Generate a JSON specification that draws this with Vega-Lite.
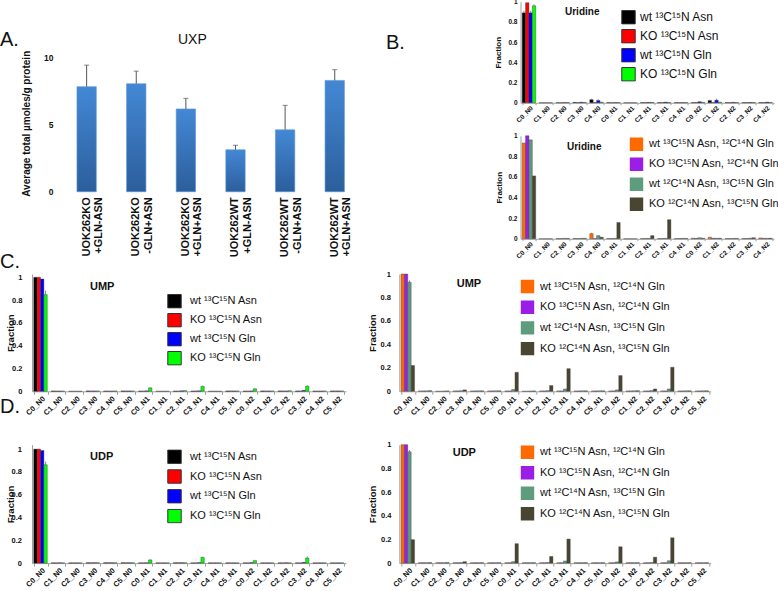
{
  "$schema": "https://vega.github.io/schema/vega-lite/v6.json",
  "background": "white",
  "padding": {"left": 0, "top": -1.25, "right": 0, "bottom": 0},
  "spacing": -8.75,
  "resolve": {"scale": {"color": "independent"}, "legend": {"color": "independent"}},
  "datasets": {
    "ax": [
      {"c": "UOK262KO|+GLN-ASN", "v": 7.84, "e": 9.45},
      {"c": "UOK262KO|-GLN+ASN", "v": 8.06, "e": 9.0},
      {"c": "UOK262KO|+GLN+ASN", "v": 6.18, "e": 6.97},
      {"c": "UOK262WT|+GLN-ASN", "v": 3.13, "e": 3.47},
      {"c": "UOK262WT|-GLN+ASN", "v": 4.62, "e": 6.45},
      {"c": "UOK262WT|+GLN+ASN", "v": 8.31, "e": 9.11}
    ],
    "ub": [
      {"k":"C0_N0","s":"a","v":0.89,"e":0.91},{"k":"C0_N0","s":"b","v":0.99},{"k":"C0_N0","s":"c","v":0.89,"e":0.91},{"k":"C0_N0","s":"d","v":0.96,"e":0.975},
      {"k":"C1_N0","s":"a","v":0},{"k":"C1_N0","s":"b","v":0},{"k":"C1_N0","s":"c","v":0},{"k":"C1_N0","s":"d","v":0},
      {"k":"C2_N0","s":"a","v":0.001},{"k":"C2_N0","s":"b","v":0.001},{"k":"C2_N0","s":"c","v":0.002},{"k":"C2_N0","s":"d","v":0.002},
      {"k":"C3_N0","s":"a","v":0.004},{"k":"C3_N0","s":"b","v":0.002},{"k":"C3_N0","s":"c","v":0.005},{"k":"C3_N0","s":"d","v":0.003},
      {"k":"C4_N0","s":"a","v":0.03,"e":0.04},{"k":"C4_N0","s":"b","v":0.002},{"k":"C4_N0","s":"c","v":0.022,"e":0.035},{"k":"C4_N0","s":"d","v":0.006},
      {"k":"C0_N1","s":"a","v":0.002},{"k":"C0_N1","s":"b","v":0.001},{"k":"C0_N1","s":"c","v":0.002},{"k":"C0_N1","s":"d","v":0.002},
      {"k":"C1_N1","s":"a","v":0},{"k":"C1_N1","s":"b","v":0},{"k":"C1_N1","s":"c","v":0},{"k":"C1_N1","s":"d","v":0},
      {"k":"C2_N1","s":"a","v":0.002},{"k":"C2_N1","s":"b","v":0.002},{"k":"C2_N1","s":"c","v":0.004},{"k":"C2_N1","s":"d","v":0.003},
      {"k":"C3_N1","s":"a","v":0.002},{"k":"C3_N1","s":"b","v":0.002},{"k":"C3_N1","s":"c","v":0.006},{"k":"C3_N1","s":"d","v":0.002},
      {"k":"C4_N1","s":"a","v":0.002},{"k":"C4_N1","s":"b","v":0.001},{"k":"C4_N1","s":"c","v":0.002},{"k":"C4_N1","s":"d","v":0.002},
      {"k":"C0_N2","s":"a","v":0.002},{"k":"C0_N2","s":"b","v":0.003},{"k":"C0_N2","s":"c","v":0.01},{"k":"C0_N2","s":"d","v":0.004},
      {"k":"C1_N2","s":"a","v":0.022,"e":0.03},{"k":"C1_N2","s":"b","v":0.003},{"k":"C1_N2","s":"c","v":0.025,"e":0.04},{"k":"C1_N2","s":"d","v":0.006},
      {"k":"C2_N2","s":"a","v":0.002},{"k":"C2_N2","s":"b","v":0.002},{"k":"C2_N2","s":"c","v":0.004},{"k":"C2_N2","s":"d","v":0.002},
      {"k":"C3_N2","s":"a","v":0.002},{"k":"C3_N2","s":"b","v":0.002},{"k":"C3_N2","s":"c","v":0.003},{"k":"C3_N2","s":"d","v":0.003},
      {"k":"C4_N2","s":"a","v":0.002},{"k":"C4_N2","s":"b","v":0.002},{"k":"C4_N2","s":"c","v":0.006},{"k":"C4_N2","s":"d","v":0.003}
    ],
    "ur": [
      {"k":"C0_N0","s":"a","v":0.93},{"k":"C0_N0","s":"b","v":1.0},{"k":"C0_N0","s":"c","v":0.96},{"k":"C0_N0","s":"d","v":0.61},
      {"k":"C1_N0","s":"a","v":0},{"k":"C1_N0","s":"b","v":0},{"k":"C1_N0","s":"c","v":0},{"k":"C1_N0","s":"d","v":0},
      {"k":"C2_N0","s":"a","v":0.002},{"k":"C2_N0","s":"b","v":0.002},{"k":"C2_N0","s":"c","v":0.004},{"k":"C2_N0","s":"d","v":0.003},
      {"k":"C3_N0","s":"a","v":0.003},{"k":"C3_N0","s":"b","v":0.002},{"k":"C3_N0","s":"c","v":0.004},{"k":"C3_N0","s":"d","v":0.004},
      {"k":"C4_N0","s":"a","v":0.05,"e":0.058},{"k":"C4_N0","s":"b","v":0.002},{"k":"C4_N0","s":"c","v":0.03,"e":0.035},{"k":"C4_N0","s":"d","v":0.015},
      {"k":"C0_N1","s":"a","v":0.003},{"k":"C0_N1","s":"b","v":0.002},{"k":"C0_N1","s":"c","v":0.004},{"k":"C0_N1","s":"d","v":0.158},
      {"k":"C1_N1","s":"a","v":0},{"k":"C1_N1","s":"b","v":0},{"k":"C1_N1","s":"c","v":0},{"k":"C1_N1","s":"d","v":0},
      {"k":"C2_N1","s":"a","v":0.002},{"k":"C2_N1","s":"b","v":0.002},{"k":"C2_N1","s":"c","v":0.004},{"k":"C2_N1","s":"d","v":0.03,"e":0.036},
      {"k":"C3_N1","s":"a","v":0.002},{"k":"C3_N1","s":"b","v":0.002},{"k":"C3_N1","s":"c","v":0.004},{"k":"C3_N1","s":"d","v":0.185},
      {"k":"C4_N1","s":"a","v":0.002},{"k":"C4_N1","s":"b","v":0.002},{"k":"C4_N1","s":"c","v":0.004},{"k":"C4_N1","s":"d","v":0.003},
      {"k":"C0_N2","s":"a","v":0.006},{"k":"C0_N2","s":"b","v":0.004},{"k":"C0_N2","s":"c","v":0.01},{"k":"C0_N2","s":"d","v":0.005},
      {"k":"C1_N2","s":"a","v":0.015},{"k":"C1_N2","s":"b","v":0.005},{"k":"C1_N2","s":"c","v":0.005},{"k":"C1_N2","s":"d","v":0.005},
      {"k":"C2_N2","s":"a","v":0.002},{"k":"C2_N2","s":"b","v":0.002},{"k":"C2_N2","s":"c","v":0.003},{"k":"C2_N2","s":"d","v":0.003},
      {"k":"C3_N2","s":"a","v":0.003},{"k":"C3_N2","s":"b","v":0.003},{"k":"C3_N2","s":"c","v":0.006},{"k":"C3_N2","s":"d","v":0.01},
      {"k":"C4_N2","s":"a","v":0.008},{"k":"C4_N2","s":"b","v":0.004},{"k":"C4_N2","s":"c","v":0.004},{"k":"C4_N2","s":"d","v":0.005}
    ],
    "ml": [
      {"k":"C0_N0","s":"a","v":1.0},{"k":"C0_N0","s":"b","v":1.0},{"k":"C0_N0","s":"c","v":0.985},{"k":"C0_N0","s":"d","v":0.848,"e":0.883},
      {"k":"C1_N0","s":"a","v":0.003},{"k":"C1_N0","s":"b","v":0.002},{"k":"C1_N0","s":"c","v":0.002},{"k":"C1_N0","s":"d","v":0.002},
      {"k":"C2_N0","s":"a","v":0},{"k":"C2_N0","s":"b","v":0},{"k":"C2_N0","s":"c","v":0},{"k":"C2_N0","s":"d","v":0},
      {"k":"C3_N0","s":"a","v":0.003},{"k":"C3_N0","s":"b","v":0.003},{"k":"C3_N0","s":"c","v":0.003},{"k":"C3_N0","s":"d","v":0.003},
      {"k":"C4_N0","s":"a","v":0.002},{"k":"C4_N0","s":"b","v":0.002},{"k":"C4_N0","s":"c","v":0.002},{"k":"C4_N0","s":"d","v":0.003},
      {"k":"C5_N0","s":"a","v":0.003},{"k":"C5_N0","s":"b","v":0.003},{"k":"C5_N0","s":"c","v":0.003},{"k":"C5_N0","s":"d","v":0.003},
      {"k":"C0_N1","s":"a","v":0.002},{"k":"C0_N1","s":"b","v":0.002},{"k":"C0_N1","s":"c","v":0.004},{"k":"C0_N1","s":"d","v":0.03,"e":0.036},
      {"k":"C1_N1","s":"a","v":0},{"k":"C1_N1","s":"b","v":0},{"k":"C1_N1","s":"c","v":0},{"k":"C1_N1","s":"d","v":0},
      {"k":"C2_N1","s":"a","v":0.002},{"k":"C2_N1","s":"b","v":0.002},{"k":"C2_N1","s":"c","v":0.004},{"k":"C2_N1","s":"d","v":0.006},
      {"k":"C3_N1","s":"a","v":0.002},{"k":"C3_N1","s":"b","v":0.003},{"k":"C3_N1","s":"c","v":0.004},{"k":"C3_N1","s":"d","v":0.042,"e":0.05},
      {"k":"C4_N1","s":"a","v":0},{"k":"C4_N1","s":"b","v":0},{"k":"C4_N1","s":"c","v":0},{"k":"C4_N1","s":"d","v":0},
      {"k":"C5_N1","s":"a","v":0.003},{"k":"C5_N1","s":"b","v":0.003},{"k":"C5_N1","s":"c","v":0.003},{"k":"C5_N1","s":"d","v":0.003},
      {"k":"C0_N2","s":"a","v":0.002},{"k":"C0_N2","s":"b","v":0.002},{"k":"C0_N2","s":"c","v":0.003},{"k":"C0_N2","s":"d","v":0.022,"e":0.026},
      {"k":"C1_N2","s":"a","v":0.003},{"k":"C1_N2","s":"b","v":0.003},{"k":"C1_N2","s":"c","v":0.003},{"k":"C1_N2","s":"d","v":0.003},
      {"k":"C2_N2","s":"a","v":0.003},{"k":"C2_N2","s":"b","v":0.003},{"k":"C2_N2","s":"c","v":0.003},{"k":"C2_N2","s":"d","v":0.005},
      {"k":"C3_N2","s":"a","v":0.003},{"k":"C3_N2","s":"b","v":0.003},{"k":"C3_N2","s":"c","v":0.008},{"k":"C3_N2","s":"d","v":0.045,"e":0.052},
      {"k":"C4_N2","s":"a","v":0.002},{"k":"C4_N2","s":"b","v":0.002},{"k":"C4_N2","s":"c","v":0.002},{"k":"C4_N2","s":"d","v":0.003},
      {"k":"C5_N2","s":"a","v":0.003},{"k":"C5_N2","s":"b","v":0.003},{"k":"C5_N2","s":"c","v":0.003},{"k":"C5_N2","s":"d","v":0.003}
    ],
    "mr": [
      {"k":"C0_N0","s":"a","v":1.0},{"k":"C0_N0","s":"b","v":1.0},{"k":"C0_N0","s":"c","v":0.93,"e":0.945},{"k":"C0_N0","s":"d","v":0.22},
      {"k":"C1_N0","s":"a","v":0.003},{"k":"C1_N0","s":"b","v":0.003},{"k":"C1_N0","s":"c","v":0.004},{"k":"C1_N0","s":"d","v":0.005},
      {"k":"C2_N0","s":"a","v":0},{"k":"C2_N0","s":"b","v":0},{"k":"C2_N0","s":"c","v":0.002},{"k":"C2_N0","s":"d","v":0.003},
      {"k":"C3_N0","s":"a","v":0.003},{"k":"C3_N0","s":"b","v":0.003},{"k":"C3_N0","s":"c","v":0.005},{"k":"C3_N0","s":"d","v":0.012},
      {"k":"C4_N0","s":"a","v":0.003},{"k":"C4_N0","s":"b","v":0.003},{"k":"C4_N0","s":"c","v":0.004},{"k":"C4_N0","s":"d","v":0.004},
      {"k":"C5_N0","s":"a","v":0.003},{"k":"C5_N0","s":"b","v":0.003},{"k":"C5_N0","s":"c","v":0.004},{"k":"C5_N0","s":"d","v":0.004},
      {"k":"C0_N1","s":"a","v":0.003},{"k":"C0_N1","s":"b","v":0.003},{"k":"C0_N1","s":"c","v":0.015},{"k":"C0_N1","s":"d","v":0.162},
      {"k":"C1_N1","s":"a","v":0},{"k":"C1_N1","s":"b","v":0},{"k":"C1_N1","s":"c","v":0.002},{"k":"C1_N1","s":"d","v":0.003},
      {"k":"C2_N1","s":"a","v":0.003},{"k":"C2_N1","s":"b","v":0.003},{"k":"C2_N1","s":"c","v":0.006},{"k":"C2_N1","s":"d","v":0.049},
      {"k":"C3_N1","s":"a","v":0.003},{"k":"C3_N1","s":"b","v":0.003},{"k":"C3_N1","s":"c","v":0.02},{"k":"C3_N1","s":"d","v":0.193},
      {"k":"C4_N1","s":"a","v":0.003},{"k":"C4_N1","s":"b","v":0.003},{"k":"C4_N1","s":"c","v":0.004},{"k":"C4_N1","s":"d","v":0.004},
      {"k":"C5_N1","s":"a","v":0.003},{"k":"C5_N1","s":"b","v":0.003},{"k":"C5_N1","s":"c","v":0.004},{"k":"C5_N1","s":"d","v":0.004},
      {"k":"C0_N2","s":"a","v":0.003},{"k":"C0_N2","s":"b","v":0.003},{"k":"C0_N2","s":"c","v":0.012},{"k":"C0_N2","s":"d","v":0.134},
      {"k":"C1_N2","s":"a","v":0.003},{"k":"C1_N2","s":"b","v":0.003},{"k":"C1_N2","s":"c","v":0.004},{"k":"C1_N2","s":"d","v":0.005},
      {"k":"C2_N2","s":"a","v":0.003},{"k":"C2_N2","s":"b","v":0.003},{"k":"C2_N2","s":"c","v":0.006},{"k":"C2_N2","s":"d","v":0.02},
      {"k":"C3_N2","s":"a","v":0.003},{"k":"C3_N2","s":"b","v":0.003},{"k":"C3_N2","s":"c","v":0.02},{"k":"C3_N2","s":"d","v":0.205},
      {"k":"C4_N2","s":"a","v":0.003},{"k":"C4_N2","s":"b","v":0.003},{"k":"C4_N2","s":"c","v":0.004},{"k":"C4_N2","s":"d","v":0.004},
      {"k":"C5_N2","s":"a","v":0.003},{"k":"C5_N2","s":"b","v":0.003},{"k":"C5_N2","s":"c","v":0.004},{"k":"C5_N2","s":"d","v":0.004}
    ],
    "dl": [
      {"k":"C0_N0","s":"a","v":1.0},{"k":"C0_N0","s":"b","v":1.0},{"k":"C0_N0","s":"c","v":0.988},{"k":"C0_N0","s":"d","v":0.863,"e":0.89},
      {"k":"C1_N0","s":"a","v":0.002},{"k":"C1_N0","s":"b","v":0.002},{"k":"C1_N0","s":"c","v":0.002},{"k":"C1_N0","s":"d","v":0.002},
      {"k":"C2_N0","s":"a","v":0.002},{"k":"C2_N0","s":"b","v":0.002},{"k":"C2_N0","s":"c","v":0.002},{"k":"C2_N0","s":"d","v":0.002},
      {"k":"C3_N0","s":"a","v":0.003},{"k":"C3_N0","s":"b","v":0.003},{"k":"C3_N0","s":"c","v":0.003},{"k":"C3_N0","s":"d","v":0.003},
      {"k":"C4_N0","s":"a","v":0.003},{"k":"C4_N0","s":"b","v":0.003},{"k":"C4_N0","s":"c","v":0.003},{"k":"C4_N0","s":"d","v":0.003},
      {"k":"C5_N0","s":"a","v":0.003},{"k":"C5_N0","s":"b","v":0.003},{"k":"C5_N0","s":"c","v":0.003},{"k":"C5_N0","s":"d","v":0.003},
      {"k":"C0_N1","s":"a","v":0.002},{"k":"C0_N1","s":"b","v":0.002},{"k":"C0_N1","s":"c","v":0.003},{"k":"C0_N1","s":"d","v":0.028,"e":0.032},
      {"k":"C1_N1","s":"a","v":0.002},{"k":"C1_N1","s":"b","v":0.002},{"k":"C1_N1","s":"c","v":0.002},{"k":"C1_N1","s":"d","v":0.002},
      {"k":"C2_N1","s":"a","v":0.003},{"k":"C2_N1","s":"b","v":0.003},{"k":"C2_N1","s":"c","v":0.003},{"k":"C2_N1","s":"d","v":0.003},
      {"k":"C3_N1","s":"a","v":0.002},{"k":"C3_N1","s":"b","v":0.002},{"k":"C3_N1","s":"c","v":0.004},{"k":"C3_N1","s":"d","v":0.05,"e":0.056},
      {"k":"C4_N1","s":"a","v":0.002},{"k":"C4_N1","s":"b","v":0.002},{"k":"C4_N1","s":"c","v":0.002},{"k":"C4_N1","s":"d","v":0.002},
      {"k":"C5_N1","s":"a","v":0.002},{"k":"C5_N1","s":"b","v":0.002},{"k":"C5_N1","s":"c","v":0.002},{"k":"C5_N1","s":"d","v":0.002},
      {"k":"C0_N2","s":"a","v":0.002},{"k":"C0_N2","s":"b","v":0.002},{"k":"C0_N2","s":"c","v":0.004},{"k":"C0_N2","s":"d","v":0.022,"e":0.025},
      {"k":"C1_N2","s":"a","v":0.002},{"k":"C1_N2","s":"b","v":0.002},{"k":"C1_N2","s":"c","v":0.002},{"k":"C1_N2","s":"d","v":0.002},
      {"k":"C2_N2","s":"a","v":0.002},{"k":"C2_N2","s":"b","v":0.002},{"k":"C2_N2","s":"c","v":0.002},{"k":"C2_N2","s":"d","v":0.002},
      {"k":"C3_N2","s":"a","v":0.002},{"k":"C3_N2","s":"b","v":0.002},{"k":"C3_N2","s":"c","v":0.006},{"k":"C3_N2","s":"d","v":0.044,"e":0.06},
      {"k":"C4_N2","s":"a","v":0.002},{"k":"C4_N2","s":"b","v":0.002},{"k":"C4_N2","s":"c","v":0.002},{"k":"C4_N2","s":"d","v":0.002},
      {"k":"C5_N2","s":"a","v":0.002},{"k":"C5_N2","s":"b","v":0.002},{"k":"C5_N2","s":"c","v":0.002},{"k":"C5_N2","s":"d","v":0.002}
    ],
    "dr": [
      {"k":"C0_N0","s":"a","v":1.0},{"k":"C0_N0","s":"b","v":1.0},{"k":"C0_N0","s":"c","v":0.94,"e":0.955},{"k":"C0_N0","s":"d","v":0.198},
      {"k":"C1_N0","s":"a","v":0.003},{"k":"C1_N0","s":"b","v":0.003},{"k":"C1_N0","s":"c","v":0.003},{"k":"C1_N0","s":"d","v":0.004},
      {"k":"C2_N0","s":"a","v":0.003},{"k":"C2_N0","s":"b","v":0.003},{"k":"C2_N0","s":"c","v":0.003},{"k":"C2_N0","s":"d","v":0.004},
      {"k":"C3_N0","s":"a","v":0.003},{"k":"C3_N0","s":"b","v":0.003},{"k":"C3_N0","s":"c","v":0.005},{"k":"C3_N0","s":"d","v":0.012},
      {"k":"C4_N0","s":"a","v":0.003},{"k":"C4_N0","s":"b","v":0.003},{"k":"C4_N0","s":"c","v":0.003},{"k":"C4_N0","s":"d","v":0.003},
      {"k":"C5_N0","s":"a","v":0.003},{"k":"C5_N0","s":"b","v":0.003},{"k":"C5_N0","s":"c","v":0.003},{"k":"C5_N0","s":"d","v":0.003},
      {"k":"C0_N1","s":"a","v":0.003},{"k":"C0_N1","s":"b","v":0.003},{"k":"C0_N1","s":"c","v":0.012},{"k":"C0_N1","s":"d","v":0.164},
      {"k":"C1_N1","s":"a","v":0.003},{"k":"C1_N1","s":"b","v":0.003},{"k":"C1_N1","s":"c","v":0.003},{"k":"C1_N1","s":"d","v":0.003},
      {"k":"C2_N1","s":"a","v":0.003},{"k":"C2_N1","s":"b","v":0.003},{"k":"C2_N1","s":"c","v":0.005},{"k":"C2_N1","s":"d","v":0.056},
      {"k":"C3_N1","s":"a","v":0.003},{"k":"C3_N1","s":"b","v":0.003},{"k":"C3_N1","s":"c","v":0.018},{"k":"C3_N1","s":"d","v":0.203},
      {"k":"C4_N1","s":"a","v":0.003},{"k":"C4_N1","s":"b","v":0.003},{"k":"C4_N1","s":"c","v":0.003},{"k":"C4_N1","s":"d","v":0.003},
      {"k":"C5_N1","s":"a","v":0.003},{"k":"C5_N1","s":"b","v":0.003},{"k":"C5_N1","s":"c","v":0.003},{"k":"C5_N1","s":"d","v":0.003},
      {"k":"C0_N2","s":"a","v":0.003},{"k":"C0_N2","s":"b","v":0.003},{"k":"C0_N2","s":"c","v":0.01},{"k":"C0_N2","s":"d","v":0.138},
      {"k":"C1_N2","s":"a","v":0.003},{"k":"C1_N2","s":"b","v":0.003},{"k":"C1_N2","s":"c","v":0.003},{"k":"C1_N2","s":"d","v":0.003},
      {"k":"C2_N2","s":"a","v":0.003},{"k":"C2_N2","s":"b","v":0.003},{"k":"C2_N2","s":"c","v":0.005},{"k":"C2_N2","s":"d","v":0.05},
      {"k":"C3_N2","s":"a","v":0.003},{"k":"C3_N2","s":"b","v":0.003},{"k":"C3_N2","s":"c","v":0.02},{"k":"C3_N2","s":"d","v":0.214},
      {"k":"C4_N2","s":"a","v":0.003},{"k":"C4_N2","s":"b","v":0.003},{"k":"C4_N2","s":"c","v":0.003},{"k":"C4_N2","s":"d","v":0.003},
      {"k":"C5_N2","s":"a","v":0.003},{"k":"C5_N2","s":"b","v":0.003},{"k":"C5_N2","s":"c","v":0.003},{"k":"C5_N2","s":"d","v":0.003}
    ]
  },
  "vconcat": [
    {
      "title": {"text": "A.", "anchor": "start", "frame": "group", "fontSize": 20, "fontWeight": "normal", "baseline": "alphabetic", "offset": 0, "dx": -32, "dy": 67.5},
      "bounds": "flush",
      "spacing": 161.5,
      "resolve": {"scale": {"color": "independent"}, "legend": {"color": "independent"}},
      "hconcat": [
        {
          "width": 327, "height": 190,
          "data": {"name": "ax"},
          "title": {"text": "UXP", "anchor": "start", "frame": "group", "fontSize": 14, "fontWeight": "normal", "baseline": "alphabetic", "offset": 0, "dx": 146, "dy": 56.25},
          "encoding": {
            "x": {"field": "c", "type": "nominal", "sort": null,
              "scale": {"paddingInner": 0.61, "paddingOuter": 0.6, "align": 0.755},
              "axis": {"title": null, "domain": false, "ticks": false, "labelAngle": -90, "labelAlign": "right", "labelBaseline": "middle", "labelFontSize": 11, "labelLineHeight": 12.5, "labelPadding": 5, "labelExpr": "split(datum.label, '|')"}},
            "y": {"field": "v", "type": "quantitative", "scale": {"domain": [0, 14.18], "nice": false},
              "axis": {"values": [0, 5, 10], "domain": false, "ticks": false, "labelFontSize": 8.5, "labelPadding": 3, "offset": -24, "title": "Average total µmoles/g protein", "titleFontSize": 10, "titleBaseline": "alphabetic", "titleX": -26.5, "titleY": 121.5}}
          },
          "layer": [
            {"mark": {"type": "bar", "color": {"gradient": "linear", "x1": 0, "y1": 0, "x2": 0, "y2": 1, "stops": [{"offset": 0, "color": "#4388d5"}, {"offset": 1, "color": "#2c5e9c"}]}, "stroke": "#5b93d6", "strokeWidth": 0.6}},
            {"mark": {"type": "rule", "color": "#555", "strokeWidth": 1}, "encoding": {"y2": {"field": "e"}}},
            {"mark": {"type": "tick", "color": "#555", "size": 5, "thickness": 1}, "encoding": {"y": {"field": "e", "type": "quantitative", "title": "Average total µmoles/g protein"}}}
          ]
        },
        {
          "title": {"text": "B.", "anchor": "start", "frame": "group", "fontSize": 20, "fontWeight": "normal", "baseline": "alphabetic", "offset": 0, "dx": -134.5, "dy": 69.75},
          "bounds": "flush",
          "spacing": 33,
          "resolve": {"scale": {"color": "independent"}, "legend": {"color": "independent"}},
          "vconcat": [
            {
              "width": 253.5, "height": 101,
              "data": {"name": "ub"},
              "title": {"text": "Uridine", "anchor": "start", "frame": "group", "fontSize": 10, "fontWeight": "bold", "baseline": "alphabetic", "offset": 0, "dx": 44.5, "dy": 26},
              "encoding": {
                "x": {"field": "k", "type": "nominal", "scale": {"domain": ["C0_N0","C1_N0","C2_N0","C3_N0","C4_N0","C0_N1","C1_N1","C2_N1","C3_N1","C4_N1","C0_N2","C1_N2","C2_N2","C3_N2","C4_N2"], "paddingInner": 0.2, "paddingOuter": 0.1},
                  "axis": {"title": null, "labelAngle": -45, "labelAlign": "right", "labelBaseline": "middle", "labelFontSize": 6.5, "labelPadding": 2, "labelOffset": 2.5, "tickBand": "extent", "tickSize": 2}},
                "xOffset": {"field": "s", "type": "nominal", "scale": {"paddingInner": 0}},
                "y": {"field": "v", "type": "quantitative", "scale": {"domain": [0, 1], "nice": false},
                  "axis": {"values": [0, 0.2, 0.4, 0.6, 0.8, 1], "format": "~g", "ticks": false, "labelFontSize": 6.5, "labelPadding": 3.5, "title": "Fraction", "titleFontSize": 8, "titleBaseline": "alphabetic", "titleX": -20.5}}
              },
              "layer": [
                {"mark": {"type": "bar", "stroke": "#333", "strokeWidth": 0.4},
                  "encoding": {"color": {"field": "s", "type": "nominal", "scale": {"domain": ["a","b","c","d"], "range": ["#000000","#ff0000","#0000ff","#00ff00"]},
                    "legend": {"orient": "none", "legendX": 100.5, "legendY": 8, "direction": "vertical", "title": null, "symbolType": "square", "symbolSize": 180, "symbolStrokeColor": "#333", "symbolStrokeWidth": 1, "symbolOpacity": 1, "labelFontSize": 12, "labelOffset": 4, "clipHeight": 15, "rowPadding": 4, "labelLimit": 300,
                      "labelExpr": "datum.value=='a'?'wt ¹³C¹⁵N Asn':datum.value=='b'?'KO ¹³C¹⁵N Asn':datum.value=='c'?'wt ¹³C¹⁵N Gln':'KO ¹³C¹⁵N Gln'"}}}},
                {"transform": [{"filter": "isValid(datum.e)"}], "mark": {"type": "rule", "color": "#666", "strokeWidth": 0.8}, "encoding": {"y2": {"field": "e"}}}
              ]
            },
            {
              "width": 253.5, "height": 103,
              "data": {"name": "ur"},
              "title": {"text": "Uridine", "anchor": "start", "frame": "group", "fontSize": 10, "fontWeight": "bold", "baseline": "alphabetic", "offset": 0, "dx": 46.5, "dy": 27},
              "encoding": {
                "x": {"field": "k", "type": "nominal", "scale": {"domain": ["C0_N0","C1_N0","C2_N0","C3_N0","C4_N0","C0_N1","C1_N1","C2_N1","C3_N1","C4_N1","C0_N2","C1_N2","C2_N2","C3_N2","C4_N2"], "paddingInner": 0.2, "paddingOuter": 0.1},
                  "axis": {"title": null, "labelAngle": -45, "labelAlign": "right", "labelBaseline": "middle", "labelFontSize": 6.5, "labelPadding": 2, "labelOffset": 2.5, "tickBand": "extent", "tickSize": 2}},
                "xOffset": {"field": "s", "type": "nominal", "scale": {"paddingInner": 0}},
                "y": {"field": "v", "type": "quantitative", "scale": {"domain": [0, 1], "nice": false},
                  "axis": {"values": [0, 0.2, 0.4, 0.6, 0.8, 1], "format": "~g", "ticks": false, "labelFontSize": 6.5, "labelPadding": 3.5, "title": "Fraction", "titleFontSize": 8, "titleBaseline": "alphabetic", "titleX": -19.5}}
              },
              "layer": [
                {"mark": {"type": "bar", "stroke": "#444", "strokeWidth": 0.4},
                  "encoding": {"color": {"field": "s", "type": "nominal", "scale": {"domain": ["a","b","c","d"], "range": ["#ff6a00","#9a1ee6","#5e9c7e","#4a4530"]},
                    "legend": {"orient": "none", "legendX": 108.5, "legendY": 1, "direction": "vertical", "title": null, "symbolType": "square", "symbolSize": 180, "symbolStrokeColor": "#333", "symbolStrokeWidth": 1, "symbolOpacity": 1, "labelFontSize": 11, "labelOffset": 5, "clipHeight": 15, "rowPadding": 5, "labelLimit": 300,
                      "labelExpr": "datum.value=='a'?'wt ¹³C¹⁵N Asn, ¹²C¹⁴N Gln':datum.value=='b'?'KO ¹³C¹⁵N Asn, ¹²C¹⁴N Gln':datum.value=='c'?'wt ¹²C¹⁴N Asn, ¹³C¹⁵N Gln':'KO ¹²C¹⁴N Asn, ¹³C¹⁵N Gln'",
                      "encode": {"symbols": {"update": {"fill": {"signal": "datum.value=='a'?'#c0504d':datum.value=='b'?'#7030a0':datum.value=='c'?'#77933c':'#4a452a'"}}}}}}}},
                {"transform": [{"filter": "isValid(datum.e)"}], "mark": {"type": "rule", "color": "#666", "strokeWidth": 0.8}, "encoding": {"y2": {"field": "e"}}}
              ]
            }
          ]
        }
      ]
    },
    {
      "spacing": -20.3,
      "resolve": {"scale": {"color": "independent"}, "legend": {"color": "independent"}},
      "vconcat": [
        {
          "title": {"text": "C.", "anchor": "start", "frame": "group", "fontSize": 20, "fontWeight": "normal", "baseline": "alphabetic", "offset": 0, "dx": -32, "dy": 17.75},
          "bounds": "flush",
          "spacing": 53.3,
          "resolve": {"scale": {"color": "independent"}, "legend": {"color": "independent"}},
          "hconcat": [
            {
              "width": 314, "height": 117.3,
              "data": {"name": "ml"},
              "title": {"text": "UMP", "anchor": "start", "frame": "group", "fontSize": 11, "fontWeight": "bold", "baseline": "alphabetic", "offset": 0, "dx": 58, "dy": 27.75},
              "encoding": {
                "x": {"field": "k", "type": "nominal", "scale": {"domain": ["C0_N0","C1_N0","C2_N0","C3_N0","C4_N0","C5_N0","C0_N1","C1_N1","C2_N1","C3_N1","C4_N1","C5_N1","C0_N2","C1_N2","C2_N2","C3_N2","C4_N2","C5_N2"], "paddingInner": 0.2, "paddingOuter": 0.1},
                  "axis": {"title": null, "labelAngle": -45, "labelAlign": "right", "labelBaseline": "middle", "labelFontSize": 7.5, "labelPadding": 3, "labelOffset": 3, "tickBand": "extent", "tickSize": 3}},
                "xOffset": {"field": "s", "type": "nominal", "scale": {"paddingInner": 0}},
                "y": {"field": "v", "type": "quantitative", "scale": {"domain": [0, 1.029], "nice": false},
                  "axis": {"values": [0, 0.2, 0.4, 0.6, 0.8, 1], "format": "~g", "ticks": false, "labelFontSize": 7.5, "labelPadding": 10, "title": "Fraction", "titleFontSize": 9.5, "titleBaseline": "alphabetic", "titleX": -18.7}}
              },
              "layer": [
                {"mark": {"type": "bar", "stroke": "#333", "strokeWidth": 0.4},
                  "encoding": {"color": {"field": "s", "type": "nominal", "scale": {"domain": ["a","b","c","d"], "range": ["#000000","#ff0000","#0000ff","#00ff00"]},
                    "legend": {"orient": "none", "legendX": 135, "legendY": 19.7, "direction": "vertical", "title": null, "symbolType": "square", "symbolSize": 180, "symbolStrokeColor": "#333", "symbolStrokeWidth": 1, "symbolOpacity": 1, "labelFontSize": 11, "labelOffset": 8, "clipHeight": 15, "rowPadding": 4, "labelLimit": 300,
                      "labelExpr": "datum.value=='a'?'wt ¹³C¹⁵N Asn':datum.value=='b'?'KO ¹³C¹⁵N Asn':datum.value=='c'?'wt ¹³C¹⁵N Gln':'KO ¹³C¹⁵N Gln'"}}}},
                {"transform": [{"filter": "isValid(datum.e)"}], "mark": {"type": "rule", "color": "#666", "strokeWidth": 0.8}, "encoding": {"y2": {"field": "e"}}}
              ]
            },
            {
              "width": 311.4, "height": 117.3,
              "data": {"name": "mr"},
              "title": {"text": "UMP", "anchor": "start", "frame": "group", "fontSize": 11, "fontWeight": "bold", "baseline": "alphabetic", "offset": 0, "dx": 57.4, "dy": 28},
              "encoding": {
                "x": {"field": "k", "type": "nominal", "scale": {"domain": ["C0_N0","C1_N0","C2_N0","C3_N0","C4_N0","C5_N0","C0_N1","C1_N1","C2_N1","C3_N1","C4_N1","C5_N1","C0_N2","C1_N2","C2_N2","C3_N2","C4_N2","C5_N2"], "paddingInner": 0.2, "paddingOuter": 0.1},
                  "axis": {"title": null, "labelAngle": -45, "labelAlign": "right", "labelBaseline": "middle", "labelFontSize": 7.5, "labelPadding": 3, "labelOffset": 3, "tickBand": "extent", "tickSize": 3}},
                "xOffset": {"field": "s", "type": "nominal", "scale": {"paddingInner": 0}},
                "y": {"field": "v", "type": "quantitative", "scale": {"domain": [0, 1], "nice": false},
                  "axis": {"values": [0, 0.2, 0.4, 0.6, 0.8, 1], "format": "~g", "ticks": false, "labelFontSize": 7.5, "labelPadding": 8.8, "title": "Fraction", "titleFontSize": 9.5, "titleBaseline": "alphabetic", "titleX": -24}}
              },
              "layer": [
                {"mark": {"type": "bar", "stroke": "#444", "strokeWidth": 0.4},
                  "encoding": {"color": {"field": "s", "type": "nominal", "scale": {"domain": ["a","b","c","d"], "range": ["#ff6a00","#9a1ee6","#5e9c7e","#4a4530"]},
                    "legend": {"orient": "none", "legendX": 120.7, "legendY": 5, "direction": "vertical", "title": null, "symbolType": "square", "symbolSize": 180, "symbolStrokeColor": "#333", "symbolStrokeWidth": 1, "symbolOpacity": 1, "labelFontSize": 11, "labelOffset": 5, "clipHeight": 15, "rowPadding": 5.7, "labelLimit": 300,
                      "labelExpr": "datum.value=='a'?'wt ¹³C¹⁵N Asn, ¹²C¹⁴N Gln':datum.value=='b'?'KO ¹³C¹⁵N Asn, ¹²C¹⁴N Gln':datum.value=='c'?'wt ¹²C¹⁴N Asn, ¹³C¹⁵N Gln':'KO ¹²C¹⁴N Asn, ¹³C¹⁵N Gln'",
                      "encode": {"symbols": {"update": {"fill": {"signal": "datum.value=='a'?'#c0504d':datum.value=='b'?'#7030a0':datum.value=='c'?'#77933c':'#4a452a'"}}}}}}}},
                {"transform": [{"filter": "isValid(datum.e)"}], "mark": {"type": "rule", "color": "#666", "strokeWidth": 0.8}, "encoding": {"y2": {"field": "e"}}}
              ]
            }
          ]
        },
        {
          "title": {"text": "D.", "anchor": "start", "frame": "group", "fontSize": 20, "fontWeight": "normal", "baseline": "alphabetic", "offset": 0, "dx": -32, "dy": -7.25},
          "bounds": "flush",
          "spacing": 53.3,
          "resolve": {"scale": {"color": "independent"}, "legend": {"color": "independent"}},
          "hconcat": [
            {
              "width": 314, "height": 118.4,
              "data": {"name": "dl"},
              "title": {"text": "UDP", "anchor": "start", "frame": "group", "fontSize": 11, "fontWeight": "bold", "baseline": "alphabetic", "offset": 0, "dx": 58, "dy": 26.6},
              "encoding": {
                "x": {"field": "k", "type": "nominal", "scale": {"domain": ["C0_N0","C1_N0","C2_N0","C3_N0","C4_N0","C5_N0","C0_N1","C1_N1","C2_N1","C3_N1","C4_N1","C5_N1","C0_N2","C1_N2","C2_N2","C3_N2","C4_N2","C5_N2"], "paddingInner": 0.2, "paddingOuter": 0.1},
                  "axis": {"title": null, "labelAngle": -45, "labelAlign": "right", "labelBaseline": "middle", "labelFontSize": 7.5, "labelPadding": 3, "labelOffset": 3, "tickBand": "extent", "tickSize": 3}},
                "xOffset": {"field": "s", "type": "nominal", "scale": {"paddingInner": 0}},
                "y": {"field": "v", "type": "quantitative", "scale": {"domain": [0, 1.039], "nice": false},
                  "axis": {"values": [0, 0.2, 0.4, 0.6, 0.8, 1], "format": "~g", "ticks": false, "labelFontSize": 7.5, "labelPadding": 10.5, "title": "Fraction", "titleFontSize": 9.5, "titleBaseline": "alphabetic", "titleX": -18.7}}
              },
              "layer": [
                {"mark": {"type": "bar", "stroke": "#333", "strokeWidth": 0.4},
                  "encoding": {"color": {"field": "s", "type": "nominal", "scale": {"domain": ["a","b","c","d"], "range": ["#000000","#ff0000","#0000ff","#00ff00"]},
                    "legend": {"orient": "none", "legendX": 135, "legendY": 4.5, "direction": "vertical", "title": null, "symbolType": "square", "symbolSize": 180, "symbolStrokeColor": "#333", "symbolStrokeWidth": 1, "symbolOpacity": 1, "labelFontSize": 11, "labelOffset": 8, "clipHeight": 15, "rowPadding": 4.8, "labelLimit": 300,
                      "labelExpr": "datum.value=='a'?'wt ¹³C¹⁵N Asn':datum.value=='b'?'KO ¹³C¹⁵N Asn':datum.value=='c'?'wt ¹³C¹⁵N Gln':'KO ¹³C¹⁵N Gln'"}}}},
                {"transform": [{"filter": "isValid(datum.e)"}], "mark": {"type": "rule", "color": "#666", "strokeWidth": 0.8}, "encoding": {"y2": {"field": "e"}}}
              ]
            },
            {
              "width": 311.4, "height": 118.4,
              "data": {"name": "dr"},
              "title": {"text": "UDP", "anchor": "start", "frame": "group", "fontSize": 11, "fontWeight": "bold", "baseline": "alphabetic", "offset": 0, "dx": 53.4, "dy": 26.75},
              "encoding": {
                "x": {"field": "k", "type": "nominal", "scale": {"domain": ["C0_N0","C1_N0","C2_N0","C3_N0","C4_N0","C5_N0","C0_N1","C1_N1","C2_N1","C3_N1","C4_N1","C5_N1","C0_N2","C1_N2","C2_N2","C3_N2","C4_N2","C5_N2"], "paddingInner": 0.2, "paddingOuter": 0.1},
                  "axis": {"title": null, "labelAngle": -45, "labelAlign": "right", "labelBaseline": "middle", "labelFontSize": 7.5, "labelPadding": 3, "labelOffset": 3, "tickBand": "extent", "tickSize": 3}},
                "xOffset": {"field": "s", "type": "nominal", "scale": {"paddingInner": 0}},
                "y": {"field": "v", "type": "quantitative", "scale": {"domain": [0, 1], "nice": false},
                  "axis": {"values": [0, 0.2, 0.4, 0.6, 0.8, 1], "format": "~g", "ticks": false, "labelFontSize": 7.5, "labelPadding": 8.3, "title": "Fraction", "titleFontSize": 9.5, "titleBaseline": "alphabetic", "titleX": -24}}
              },
              "layer": [
                {"mark": {"type": "bar", "stroke": "#444", "strokeWidth": 0.4},
                  "encoding": {"color": {"field": "s", "type": "nominal", "scale": {"domain": ["a","b","c","d"], "range": ["#ff6a00","#9a1ee6","#5e9c7e","#4a4530"]},
                    "legend": {"orient": "none", "legendX": 120.7, "legendY": 0, "direction": "vertical", "title": null, "symbolType": "square", "symbolSize": 180, "symbolStrokeColor": "#333", "symbolStrokeWidth": 1, "symbolOpacity": 1, "labelFontSize": 11, "labelOffset": 5, "clipHeight": 15, "rowPadding": 5.5, "labelLimit": 300,
                      "labelExpr": "datum.value=='a'?'wt ¹³C¹⁵N Asn, ¹²C¹⁴N Gln':datum.value=='b'?'KO ¹³C¹⁵N Asn, ¹²C¹⁴N Gln':datum.value=='c'?'wt ¹²C¹⁴N Asn, ¹³C¹⁵N Gln':'KO ¹²C¹⁴N Asn, ¹³C¹⁵N Gln'",
                      "encode": {"symbols": {"update": {"fill": {"signal": "datum.value=='a'?'#c0504d':datum.value=='b'?'#7030a0':datum.value=='c'?'#77933c':'#4a452a'"}}}}}}}},
                {"transform": [{"filter": "isValid(datum.e)"}], "mark": {"type": "rule", "color": "#666", "strokeWidth": 0.8}, "encoding": {"y2": {"field": "e"}}}
              ]
            }
          ]
        }
      ]
    }
  ],
  "config": {
    "view": {"stroke": null},
    "font": "Liberation Sans",
    "axis": {"grid": false, "labelColor": "#111", "titleColor": "#111", "domainColor": "#a0a0a0", "tickColor": "#a0a0a0", "labelFontWeight": "bold", "titleFontWeight": "bold"},
    "legend": {"labelColor": "#111", "labelFont": "Liberation Sans", "padding": 0},
    "title": {"color": "#111"}
  }
}
